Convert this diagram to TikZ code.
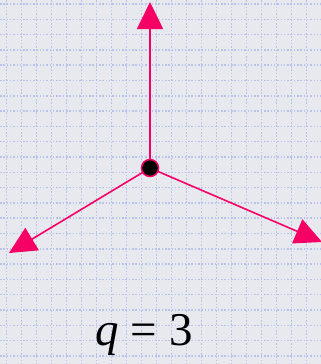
\documentclass[tikz,border=0pt]{standalone}
\usepackage{fontspec}
\setmainfont{Liberation Serif}
\usetikzlibrary{arrows.meta}
\definecolor{bg}{RGB}{232,233,239}
\definecolor{gridc}{RGB}{185,194,232}
\definecolor{pinkc}{RGB}{245,0,100}
\tikzset{
  vec/.style={draw=pinkc, line width=1.6pt, -{Triangle[length=27pt,width=26pt]}},
  gridline/.style={draw=gridc, line width=1.5pt, dash pattern=on 1.5pt off 1.8pt},
}
\begin{document}
\begin{tikzpicture}[x=1pt,y=-1pt]
\fill[bg] (0,0) rectangle (321,364);
\useasboundingbox (0,0) rectangle (321,364);
\foreach \i in {0,...,21} { \draw[gridline] ({6.7+15*\i},0) -- ({6.7+15*\i},364); }
\foreach \j in {0,...,23} { \draw[gridline] (0,{4+15.3*\j}) -- (321,{4+15.3*\j}); }
\coordinate (c) at (150,168);
\coordinate (t) at (150,2);
\coordinate (l) at (9,253);
\coordinate (r) at (322,242);
\draw[vec] (c) -- (t);
\draw[vec] (c) -- (l);
\draw[vec] (c) -- (r);
\node[circle, fill=black, draw=pinkc, line width=1.5pt, minimum size=17pt, inner sep=0pt] (dot) at (c) {};
\node[font=\fontsize{47}{50}\selectfont, anchor=base] (lab) at (144,345) {\textit{q} = 3};
\end{tikzpicture}
\end{document}
